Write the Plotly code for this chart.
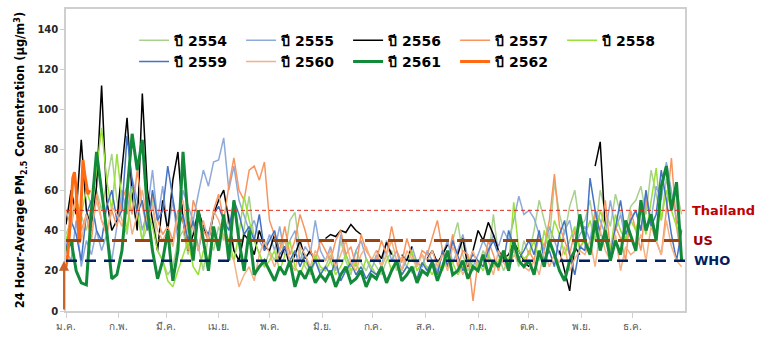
import plotly.graph_objects as go

# ---------------- data ----------------
MONTH_START_DAYS = [0, 31, 59, 90, 120, 151, 181, 212, 243, 273, 304, 334]
MONTH_LABELS = ["ม.ค.", "ก.พ.", "มี.ค.", "เม.ย.", "พ.ค.", "มิ.ย.", "ก.ค.", "ส.ค.", "ก.ย.", "ต.ค.", "พ.ย.", "ธ.ค."]
Y_TICKS = [0, 20, 40, 60, 80, 100, 120, 140]

# sample days (day of year) for the full-year series
DAYS = list(range(0, 365, 3))

Y2554 = [38, 45, 55, 48, 40, 52, 60, 50, 65, 78, 55,
         45, 38, 60, 50, 35, 42, 55, 30, 25,
         18, 22, 35, 40, 28, 45, 32, 20, 38, 30,
         42, 35, 48, 30, 25, 40, 57, 35, 28, 22,
         30, 25, 35, 28, 45, 49, 30, 22, 18, 25, 20,
         22, 28, 20, 35, 25, 18, 30, 24, 20, 26,
         22, 18, 25, 30, 20, 27, 22, 19, 24, 28,
         20, 25, 18, 30, 22, 35, 44, 28, 20, 25,
         22, 30, 25, 48, 28, 20, 26, 30, 22, 35,
         28, 40, 55, 45, 35, 64, 48, 38, 52, 60, 42,
         45, 55, 38, 60, 50, 42, 58, 48, 40, 52,
         55, 62, 48, 70, 58, 45, 66, 52, 60, 48]

Y2555 = [30, 25, 45, 22, 35, 28, 40, 30, 38, 25, 42,
         60, 48, 66, 55, 40, 50, 70, 45, 62,
         40, 55, 35, 60, 52, 45, 58, 70, 62, 74,
         75, 86, 60, 72, 55, 48, 40, 45, 35, 30,
         38, 30, 42, 28, 35, 40, 25, 32, 28, 45, 30,
         25, 32, 20, 38, 28, 22, 30, 35, 26, 20,
         28, 22, 35, 25, 30, 20, 26, 32, 24, 22,
         30, 25, 20, 28, 35, 24, 30, 38, 26, 22,
         28, 35, 30, 38, 32, 40, 35, 45, 57, 48,
         50, 46, 38, 30, 42, 35, 28, 40, 45, 32, 38,
         42, 35, 50, 45, 38, 55, 40, 48, 35, 45,
         50, 40, 58, 45, 62, 55, 74, 60, 45, 40]

Y2556 = [43, 60, 48, 85, 50, 40, 62, 112, 55, 40, 45,
         72, 96, 58, 40, 108, 60, 45, 30, 55,
         40, 65, 79, 45, 30, 38, 50, 42, 35, 48,
         55, 60, 45, 30, 25, 38, 35, 28, 40, 32,
         30, 38, 25, 32, 22, 28, 35, 26, 30, 24, None,
         36, 38, 37, 40, 39, 43, 40, 38, None, None,
         30, 26, 34, 28, None, 28, 25, 32, None, None,
         26, 30, 24, 28, 33, None, 28, 36, 22, 30,
         40, 35, 44, 38, 30, 26, 28, 34, 30, 25,
         22, None, None, None, None, None, 30, 20, 10, 32, 28,
         None, None, 72, 84, 40, None, None, None, None, None,
         None, None, None, None, None, None, None, None, None, None]

Y2557 = [30, 42, 55, 40, 48, 35, 58, 45, 38, 50, 42,
         55, 62, 48, 70, 52, 40, 58, 45, 38,
         42, 35, 50, 45, 30, 55, 48, 40, 35, 50,
         58, 45, 62, 76, 60, 55, 70, 72, 65, 74,
         45, 38, 30, 42, 28, 35, 48, 40, 30, 25, 35,
         30, 25, 35, 40, 28, 32, 22, 38, 30, 26,
         25, 35, 28, 42, 30, 24, 36, 28, 22, 30,
         28, 36, 45, 30, 25, 38, 22, 30, 28, 5,
         25, 22, 35, 28, 20, 30, 24, 32, 26, 22,
         30, 25, 38, 32, 45, 68, 42, 35, 28, 40, 32,
         35, 28, 48, 40, 55, 30, 42, 36, 25, 50,
         40, 30, 55, 45, 35, 28, 50, 76, 42, 25]

Y2558 = [35, 45, 55, 48, 60, 52, 70, 91, 65, 50, 78,
         55, 40, 62, 48, 35, 50, 42, 30, 25,
         15, 12, 20, 28, 35, 22, 18, 30, 25, 40,
         30, 42, 35, 25, 38, 57, 45, 35, 28, 22,
         25, 30, 20, 28, 35, 22, 18, 25, 20, 28, 22,
         20, 25, 18, 22, 28, 20, 24, 18, 26, 22,
         18, 22, 28, 20, 25, 18, 22, 30, 20, 24,
         22, 18, 25, 20, 28, 24, 18, 22, 26, 20,
         24, 20, 28, 22, 25, 30, 22, 54, 30, 26,
         28, 35, 25, 40, 30, 45, 38, 28, 35, 42, 30,
         38, 45, 35, 50, 42, 30, 48, 40, 35, 45,
         40, 50, 38, 55, 71, 45, 60, 50, 42, 38]

Y2559 = [30, 45, 38, 25, 48, 55, 40, 35, 52, 60, 45,
         50, 87, 65, 48, 55, 40, 60, 45, 50,
         72, 55, 40, 48, 35, 45, 30, 42, 38, 48,
         52, 45, 40, 55, 48, 38, 42, 35, 48, 30,
         35, 40, 28, 32, 25, 30, 22, 28, 20, 25, 18,
         22, 18, 25, 15, 20, 24, 18, 22, 16, 20,
         18, 22, 15, 20, 25, 18, 22, 20, 16, 24,
         20, 25, 18, 30, 22, 35, 28, 20, 24, 28,
         25, 22, 30, 35, 28, 24, 40, 32, 26, 30,
         35, 28, 40, 25, 30, 22, 38, 45, 28, 18, 32,
         30, 66, 50, 38, 35, 28, 42, 55, 38, 45,
         50, 40, 60, 42, 48, 70, 55, 38, 25, 40]

Y2560 = [50, 42, 58, 35, 48, 40, 55, 45, 38, 52, 48,
         42, 55, 38, 48, 60, 45, 52, 40, 35,
         40, 32, 48, 55, 38, 42, 30, 45, 35, 50,
         45, 38, 30, 25, 12, 18, 22, 15, 28, 35,
         28, 22, 30, 35, 25, 20, 32, 28, 22, 30, 25,
         25, 30, 22, 28, 35, 24, 20, 28, 32, 25,
         30, 22, 28, 35, 25, 20, 30, 26, 22, 28,
         25, 30, 22, 28, 20, 32, 26, 18, 24, 30,
         22, 28, 25, 18, 30, 24, 20, 28, 25, 22,
         20, 25, 18, 30, 22, 28, 24, 32, 20, 26, 30,
         28, 35, 22, 40, 30, 25, 38, 20, 32, 28,
         30, 38, 25, 42, 35, 28, 45, 32, 25, 22]

Y2561 = [30, 35, 20, 14, 13, 50, 79, 60, 40, 16, 18,
         30, 60, 88, 70, 85, 50, 30, 16, 25,
         40, 15, 30, 79, 45, 25, 50, 35, 20, 42,
         30, 48, 25, 55, 35, 20, 40, 18, 22, 25,
         20, 15, 22, 18, 25, 12, 20, 16, 22, 14, 18,
         15, 20, 12, 18, 22, 14, 16, 20, 12, 18,
         16, 22, 14, 20, 25, 15, 18, 22, 14, 20,
         18, 24, 15, 22, 30, 18, 20, 25, 16, 22,
         20, 28, 18, 25, 22, 30, 20, 35, 25, 22,
         25, 18, 30, 22, 35, 28, 20, 15, 25, 30, 48,
         35, 28, 45, 30, 40, 25, 35, 28, 45, 38,
         30, 55, 40, 48, 35, 62, 72, 50, 64, 25]

# 2562: only the first two weeks of January (daily)
DAYS_2562 = list(range(0, 15))
Y2562 = [22, 28, 38, 52, 66, 69, 60, 45, 34, 55, 75, 68, 62, 58, 60]

THAILAND_STD = 50
US_STD = 35
WHO_STD = 25

SERIES = [
    ("ปี 2554", DAYS, Y2554, "#a9d18e", 1.5),
    ("ปี 2555", DAYS, Y2555, "#8eaadb", 1.5),
    ("ปี 2556", DAYS, Y2556, "#000000", 1.5),
    ("ปี 2557", DAYS, Y2557, "#f8955f", 1.5),
    ("ปี 2558", DAYS, Y2558, "#99e03a", 1.5),
    ("ปี 2559", DAYS, Y2559, "#4472c4", 1.5),
    ("ปี 2560", DAYS, Y2560, "#f4b183", 1.5),
    ("ปี 2561", DAYS, Y2561, "#128a3a", 3),
    ("ปี 2562", DAYS_2562, Y2562, "#ff6a13", 3),
]

# ---------------- figure ----------------
fig = go.Figure()
for name, xs, ys, color, width in SERIES:
    fig.add_trace(go.Scatter(x=xs, y=ys, name=name, mode="lines",
                             line=dict(color=color, width=width),
                             connectgaps=False))

# reference standards
fig.add_shape(type="line", xref="x", yref="y", x0=0, x1=365, y0=THAILAND_STD, y1=THAILAND_STD,
              line=dict(color="#e0281e", width=1, dash="4px,3px"))
fig.add_shape(type="line", xref="x", yref="y", x0=0, x1=365, y0=US_STD, y1=US_STD,
              line=dict(color="#984512", width=3, dash="15px,8px"))
fig.add_shape(type="line", xref="x", yref="y", x0=0, x1=365, y0=WHO_STD, y1=WHO_STD,
              line=dict(color="#002060", width=2.5, dash="11px,8px"))

lab_font = dict(family="DejaVu Sans", size=13, weight="bold")
fig.add_annotation(x=365, y=THAILAND_STD, xref="x", yref="y", text="Thailand", showarrow=False,
                   xanchor="left", xshift=5, font=dict(color="#c00000", **lab_font))
fig.add_annotation(x=365, y=US_STD, xref="x", yref="y", text="US", showarrow=False,
                   xanchor="left", xshift=6, font=dict(color="#a00000", **lab_font))
fig.add_annotation(x=365, y=WHO_STD, xref="x", yref="y", text="WHO", showarrow=False,
                   xanchor="left", xshift=7, font=dict(color="#002060", **lab_font))

# orange arrow at the start of the year
fig.add_annotation(x=0, y=WHO_STD, ax=0, ay=0, xref="x", yref="y", axref="x", ayref="y",
                   text="", showarrow=True, arrowhead=2, arrowsize=1, arrowwidth=2,
                   arrowcolor="#c8642a", xshift=-2, standoff=0, startstandoff=0)

fig.update_layout(
    width=762, height=340,
    margin=dict(l=66, r=77, t=7, b=27),
    paper_bgcolor="white", plot_bgcolor="white",
    showlegend=True,
    legend=dict(orientation="h", x=0.11, y=0.948, xanchor="left", yanchor="top",
                entrywidth=62, entrywidthmode="pixels",
                bgcolor="rgba(0,0,0,0)",
                font=dict(family="DejaVu Sans", size=14, weight="bold", color="#000000"),
                tracegroupgap=0),
    xaxis=dict(range=[0, 365], tickvals=MONTH_START_DAYS, ticktext=MONTH_LABELS,
               showgrid=False, zeroline=False, showline=True, linecolor="#cfcfcf",
               linewidth=1.5, mirror=True, ticks="outside", ticklen=5, tickcolor="#cfcfcf",
               tickfont=dict(family="Noto Sans, DejaVu Sans, sans-serif", size=10, color="#595959")),
    yaxis=dict(range=[0, 150], tickvals=Y_TICKS, showgrid=False, zeroline=False,
               showline=True, linecolor="#cfcfcf", linewidth=1.5, mirror=True,
               ticks="outside", ticklen=4, tickcolor="#cfcfcf",
               tickfont=dict(family="DejaVu Sans", size=10, weight="bold", color="#262626"),
               title=dict(text="24 Hour-Average PM<sub>2.5</sub> Concentration (µg/m<sup>3</sup>)",
                          font=dict(family="DejaVu Sans", size=11.5, weight="bold", color="#000000"),
                          standoff=10)),
)

fig.write_html("out.html")
